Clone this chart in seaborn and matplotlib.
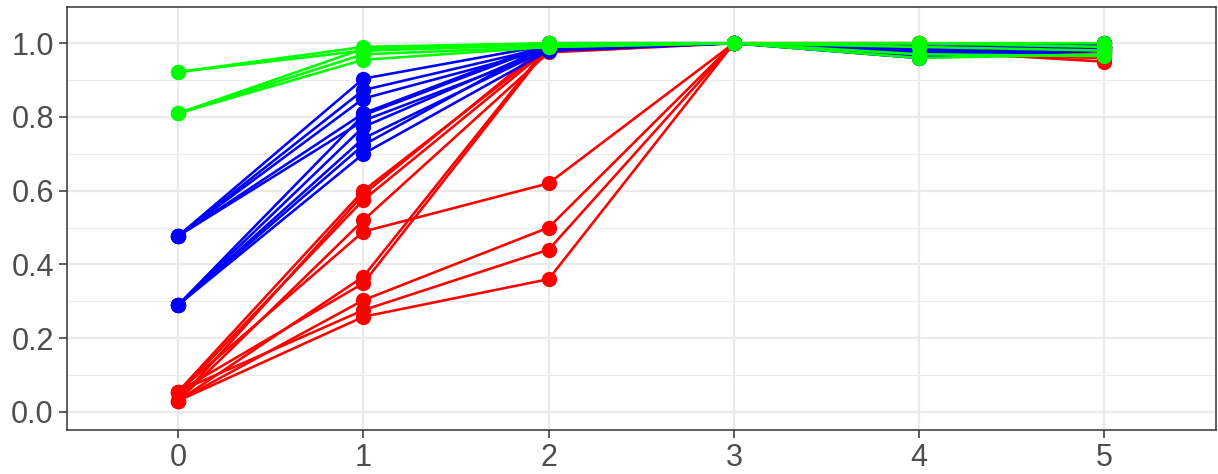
import matplotlib
matplotlib.use("Agg")
import matplotlib.pyplot as plt
import seaborn as sns
import numpy as np
import pandas as pd

steps = [0, 1, 2, 3, 4, 5]

red_runs = [
    [0.055, 0.600, 0.990, 1.0, 0.990, 0.970],
    [0.030, 0.590, 1.000, 1.0, 1.000, 0.990],
    [0.050, 0.575, 0.985, 1.0, 0.980, 0.950],
    [0.030, 0.520, 0.975, 1.0, 0.990, 0.980],
    [0.055, 0.489, 0.620, 1.0, 1.000, 1.000],
    [0.030, 0.367, 0.995, 1.0, 0.985, 0.970],
    [0.055, 0.349, 0.990, 1.0, 1.000, 0.990],
    [0.030, 0.303, 0.500, 1.0, 0.990, 0.980],
    [0.055, 0.276, 0.440, 1.0, 0.970, 0.960],
    [0.030, 0.258, 0.360, 1.0, 1.000, 0.990],
]
blue_runs = [
    [0.477, 0.904, 0.995, 1.0, 0.990, 0.990],
    [0.477, 0.873, 0.990, 1.0, 0.980, 1.000],
    [0.477, 0.850, 0.985, 1.0, 0.960, 0.980],
    [0.477, 0.810, 1.000, 1.0, 0.975, 0.990],
    [0.477, 0.790, 0.980, 1.0, 0.990, 0.985],
    [0.290, 0.805, 0.995, 1.0, 0.960, 0.990],
    [0.290, 0.773, 0.990, 1.0, 0.970, 0.980],
    [0.290, 0.742, 0.985, 1.0, 0.985, 1.000],
    [0.290, 0.724, 1.000, 1.0, 0.965, 0.985],
    [0.290, 0.700, 0.980, 1.0, 0.990, 0.990],
]
green_runs = [
    [0.922, 0.990, 1.000, 1.0, 1.000, 1.000],
    [0.922, 0.980, 0.995, 1.0, 0.960, 0.970],
    [0.810, 0.985, 1.000, 1.0, 1.000, 0.990],
    [0.810, 0.970, 0.990, 1.0, 0.990, 0.980],
    [0.810, 0.955, 0.990, 1.0, 0.970, 0.965],
]

rows = []
for group, runs in [("red", red_runs), ("blue", blue_runs), ("green", green_runs)]:
    for i, run in enumerate(runs):
        for x, v in zip(steps, run):
            rows.append({"group": group, "run": group + str(i), "x": x, "value": v})
df = pd.DataFrame(rows)

sns.set_style("white")
plt.rcParams['font.family'] = ['Liberation Sans', 'DejaVu Sans']

fig = plt.figure(figsize=(12.18, 4.74), dpi=100)
ax = fig.add_axes([0.055, 0.093, 0.943, 0.892])

# ggplot theme_bw style grid
for v in np.arange(0.1, 1.1, 0.2):
    ax.axhline(v, color="#EBEBEB", linewidth=0.8, zorder=0)
for v in np.arange(0, 1.01, 0.2):
    ax.axhline(v, color="#EBEBEB", linewidth=1.6, zorder=0)
for v in steps:
    ax.axvline(v, color="#EBEBEB", linewidth=1.6, zorder=0)

sns.lineplot(data=df, x="x", y="value", hue="group", units="run", estimator=None,
             hue_order=["red", "blue", "green"],
             palette={"red": "#FF0000", "blue": "#0000FF", "green": "#00FF00"},
             marker="o", markersize=11, markeredgewidth=0, linewidth=1.85,
             legend=False, ax=ax)

ax.set_xlim(-0.6, 5.6)
ax.set_ylim(-0.049, 1.098)
ax.set_xticks(steps)
ax.set_yticks([0.0, 0.2, 0.4, 0.6, 0.8, 1.0])
ax.set_yticklabels(["0.0", "0.2", "0.4", "0.6", "0.8", "1.0"])
ax.set_xlabel("")
ax.set_ylabel("")
ax.tick_params(axis="both", length=5.5, width=1.1, color="#333333", labelsize=22,
               labelcolor="#4D4D4D", pad=4, left=True, bottom=True)
for s in ax.spines.values():
    s.set_color("#333333")
    s.set_linewidth(1.1)

fig.savefig("out.png", dpi=100)
